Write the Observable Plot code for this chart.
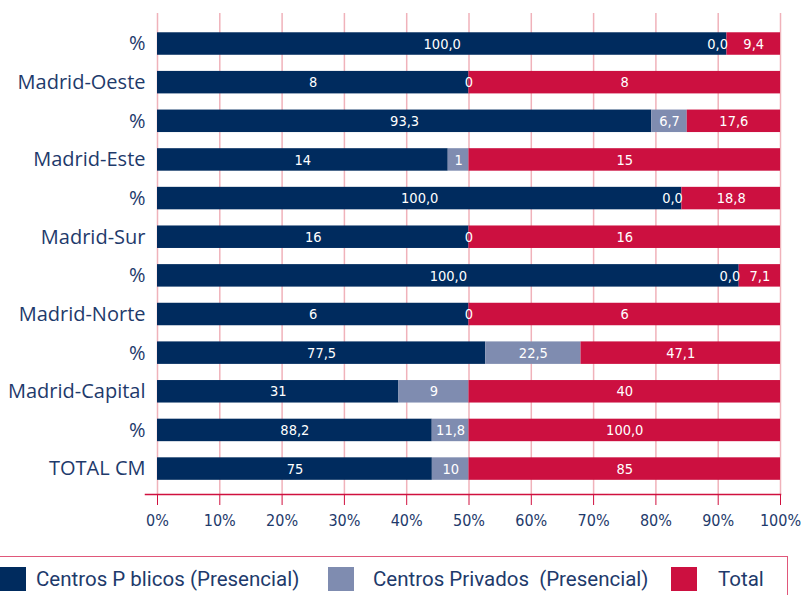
<!DOCTYPE html>
<html><head><meta charset="utf-8">
<script src="https://cdn.jsdelivr.net/npm/d3@7"></script>
<script src="https://cdn.jsdelivr.net/npm/@observablehq/plot@0.6"></script>
<style>
body{margin:0;background:#fff;width:805px;height:595px;overflow:hidden;position:relative;}
#legend{position:absolute;left:0;top:0;width:805px;height:595px;pointer-events:none;}
.box{position:absolute;left:-3px;top:556px;width:789px;height:60px;border:1.5px solid #e0577a;}
.sw{position:absolute;width:26px;height:24px;top:567px;}
.lt{position:absolute;top:566px;font-family:Roboto,sans-serif;font-size:20.5px;color:#1e3a6b;line-height:26px;white-space:pre;}
</style>
</head><body>
<div id="chart"></div>
<div id="legend"></div>
<script>
const rowKeys = ["Oeste %","Madrid-Oeste","Este %","Madrid-Este","Sur %","Madrid-Sur","Norte %","Madrid-Norte","Capital %","Madrid-Capital","Total %","TOTAL CM"];
const rowLabels = ["%","Madrid-Oeste","%","Madrid-Este","%","Madrid-Sur","%","Madrid-Norte","%","Madrid-Capital","%","TOTAL CM"];
const publicos = [100.0, 8, 93.3, 14, 100.0, 16, 100.0, 6, 77.5, 31, 88.2, 75];
const privados = [0.0, 0, 6.7, 1, 0.0, 0, 0.0, 0, 22.5, 9, 11.8, 10];
const totales  = [9.4, 8, 17.6, 15, 18.8, 16, 7.1, 6, 47.1, 40, 100.0, 85];
const decimals = [1, 0, 1, 0, 1, 0, 1, 0, 1, 0, 1, 0];
const series = ["Centros P blicos (Presencial)", "Centros Privados  (Presencial)", "Total"];
const colors = ["#002b5e", "#7f8cb0", "#cc1040"];
const xTicks = [0, 0.1, 0.2, 0.3, 0.4, 0.5, 0.6, 0.7, 0.8, 0.9, 1];

const navy = "#1e3a6b";
const crimson = "#d0103f";
const valueFont = "'DejaVu Sans Condensed','DejaVu Sans',sans-serif";

const seriesValues = [publicos, privados, totales];
const data = [];
rowKeys.forEach((r, i) => series.forEach((s, j) => data.push({row: r, series: s, value: seriesValues[j][i], dec: decimals[i]})));
const fmt = d => d.value.toFixed(d.dec).replace(".", ",");
const pctZero = d => d.dec === 1 && d.value === 0;

const stack = (opts) => Plot.stackX({x: "value", y: "row", z: "series", offset: "normalize", order: series, ...opts});

const chart = Plot.plot({
  width: 805,
  height: 550,
  marginLeft: 157,
  marginRight: 25,
  marginTop: 13,
  marginBottom: 56,
  style: {fontFamily: valueFont, background: "#fff"},
  x: {domain: [0, 1], axis: null, label: null},
  y: {domain: rowKeys, paddingInner: 0.418, paddingOuter: 0.433, align: 0.576, round: false, axis: null, label: null},
  color: {domain: series, range: colors},
  marks: [
    Plot.gridX(xTicks, {stroke: "#f0b2ba", strokeOpacity: 1, strokeWidth: 1.5}),
    Plot.barX(data, stack({fill: "series"})),
    Plot.text(data, stack({text: d => pctZero(d) ? null : fmt(d), fill: "white", fontSize: 14.5, fontFamily: valueFont, fontStretch: "condensed"})),
    Plot.text(data, stack({text: d => pctZero(d) ? fmt(d) : null, fill: "white", fontSize: 14.5, textAnchor: "end", dx: 1, fontFamily: valueFont, fontStretch: "condensed"})),
    Plot.frame({anchor: "bottom", stroke: crimson, strokeWidth: 1.5, insetLeft: -12}),
    Plot.axisX(xTicks, {anchor: "bottom", label: null, tickFormat: d3.format(".0%"), stroke: crimson, fill: navy, tickSize: 11, tickPadding: 9, fontSize: 16, fontFamily: valueFont}),
    Plot.axisY({anchor: "left", label: null, tickSize: 0, tickPadding: 12, tickFormat: d => rowLabels[rowKeys.indexOf(d)], fill: navy, fontSize: 20, fontFamily: "'Open Sans', sans-serif"})
  ]
});
document.getElementById("chart").appendChild(chart);

const legend = document.getElementById("legend");
const box = document.createElement("div"); box.className = "box"; legend.appendChild(box);
const swX = [0, 328, 671];
const txX = [36, 373, 718];
series.forEach((s, i) => {
  const sw = document.createElement("div"); sw.className = "sw"; sw.style.left = swX[i] + "px"; sw.style.background = colors[i]; legend.appendChild(sw);
  const t = document.createElement("div"); t.className = "lt"; t.style.left = txX[i] + "px"; t.textContent = s; legend.appendChild(t);
});
</script>
</body></html>
